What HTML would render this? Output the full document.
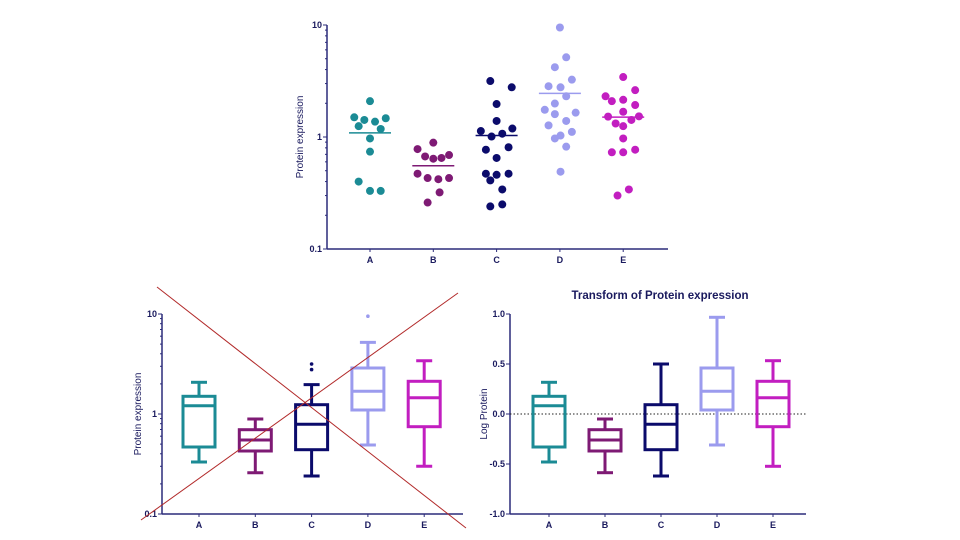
<!DOCTYPE html>
<html><head><meta charset="utf-8"><style>
body{margin:0;background:#fff;width:960px;height:540px;overflow:hidden}
svg{display:block;font-family:"Liberation Sans",sans-serif}
</style></head><body>
<svg id="s" width="960" height="540" viewBox="0 0 960 540"></svg>
<script>
const categories=["A","B","C","D","E"];
const colors=["#1b8b95","#7e1a74","#0b0b6b","#9b9bee","#c21ec0"];
// scatter values (category-fraction jitter, value)
const ptsA=[[0,2.09],[-0.25,1.5],[-0.09,1.42],[0.08,1.37],[0.25,1.47],[-0.18,1.25],[0.17,1.18],[0,0.97],[0,0.74],[-0.18,0.4],[0,0.33],[0.17,0.33]];
const ptsB=[[-0.25,0.78],[0,0.89],[-0.13,0.67],[0,0.64],[0.13,0.65],[0.25,0.69],[-0.25,0.47],[-0.09,0.43],[0.08,0.42],[0.25,0.43],[0.1,0.32],[-0.09,0.26]];
const ptsC=[[-0.1,3.16],[0.24,2.78],[0,1.97],[0,1.39],[-0.25,1.13],[0.25,1.19],[-0.08,1.01],[0.09,1.07],[-0.17,0.77],[0.19,0.81],[0,0.65],[-0.17,0.47],[0,0.46],[0.19,0.47],[-0.1,0.41],[0.09,0.34],[-0.1,0.24],[0.09,0.25]];
const ptsD=[[0,9.5],[0.1,5.15],[-0.08,4.2],[0.19,3.25],[-0.18,2.84],[0.01,2.78],[0.1,2.31],[-0.08,1.99],[-0.24,1.75],[-0.08,1.6],[0.25,1.65],[0.1,1.39],[-0.18,1.27],[0.19,1.11],[0.01,1.03],[-0.08,0.97],[0.1,0.82],[0.01,0.49]];
const ptsE=[[0,3.43],[0.19,2.62],[-0.28,2.31],[-0.18,2.09],[0,2.15],[0.19,1.93],[0,1.68],[-0.24,1.52],[0.25,1.53],[-0.12,1.32],[0,1.25],[0.13,1.42],[0,0.97],[-0.18,0.73],[0,0.73],[0.19,0.77],[0.09,0.34],[-0.09,0.30]];
const scatter=[ptsA,ptsB,ptsC,ptsD,ptsE];
// box stats (log10 values)
const boxHi=[0.317,-0.05,0.5,0.967,0.533];
const boxQ3=[0.177,-0.157,0.093,0.46,0.327];
const boxMed=[0.083,-0.26,-0.103,0.227,0.163];
const boxQ1=[-0.33,-0.37,-0.357,0.04,-0.127];
const boxLo=[-0.48,-0.587,-0.62,-0.31,-0.523];
const tukeyHi=[0.317,-0.05,0.294,0.716,0.533];
const outliers=[[],[],[2.78,3.16],[9.5],[]];
const logTicks=["10","1","0.1"];
const linTicks=["1.0","0.5","0.0","-0.5","-1.0"];

const S=document.getElementById('s');const NS="http://www.w3.org/2000/svg";
function el(t,a,p){const e=document.createElementNS(NS,t);for(const k in a)e.setAttribute(k,a[k]);(p||S).appendChild(e);return e;}
function txt(x,y,s,a,p){const e=el('text',Object.assign({x:x,y:y,fill:'#1a1a5e','font-size':9,'font-weight':'bold','text-anchor':'middle'},a),p);e.textContent=s;return e;}
const AX="#2b2b7a";

function axes(g,x0,x1,yTop,yBot,cx,logAxis,decade){
  el('line',{x1:x0,y1:yTop,x2:x0,y2:yBot,stroke:AX,'stroke-width':1.5},g);
  el('line',{x1:x0,y1:yBot,x2:x1,y2:yBot,stroke:AX,'stroke-width':1.5},g);
  categories.forEach((c,i)=>{const x=cx(i);el('line',{x1:x,y1:yBot,x2:x,y2:yBot+3,stroke:AX},g);
    const t=txt(x,yBot+14,c,{},g);});
  if(logAxis){
    logTicks.forEach((l,i)=>{const y=yTop+i*decade;el('line',{x1:x0-4,y1:y,x2:x0,y2:y,stroke:AX},g);
      const t=txt(x0-5,y+3,l,{'text-anchor':'end'},g);
      if(i<2)for(let m=2;m<10;m++){const yy=yTop+(i+1)*decade-Math.log10(m)*decade;el('line',{x1:x0-2,y1:yy,x2:x0,y2:yy,stroke:AX},g);}});
  } else {
    linTicks.forEach((l,i)=>{const y=yTop+i*(yBot-yTop)/4;el('line',{x1:x0-4,y1:y,x2:x0,y2:y,stroke:AX},g);
      const t=txt(x0-5,y+3,l,{'text-anchor':'end'},g);});
  }
}

// Top scatter chart
(function(){
  const g=el('g',{});
  const x0=327,x1=668,yT=25,yB=249,dec=112,cx=i=>370+i*63.3;
  const y=v=>yT+(1-Math.log10(v))*dec;
  axes(g,x0,x1,yT,yB,cx,true,dec);
  const t=txt(303,137,"Protein expression",{'font-weight':'normal','font-size':10,transform:'rotate(-90 303 137)'},g);
  scatter.forEach((pts,i)=>{let s=0;pts.forEach(p=>{s+=p[1];const c=el('circle',{cx:cx(i)+p[0]*63,cy:y(p[1]),r:4,fill:colors[i]},g);
      });
    const m=s/pts.length;const l=el('line',{x1:cx(i)-21,x2:cx(i)+21,y1:y(m),y2:y(m),stroke:colors[i],'stroke-width':1.5},g);
    });
})();

function boxes(g,cx,y,hiArr,outs){
  categories.forEach((c,i)=>{const x=cx(i),col=colors[i],w=16,a={stroke:col,'stroke-width':3,fill:'none'};
    const bg=el('g',{},g);
    el('line',Object.assign({x1:x,x2:x,y1:y(hiArr[i]),y2:y(boxQ3[i])},a),bg);
    el('line',Object.assign({x1:x,x2:x,y1:y(boxQ1[i]),y2:y(boxLo[i])},a),bg);
    el('line',Object.assign({x1:x-8,x2:x+8,y1:y(hiArr[i]),y2:y(hiArr[i])},a),bg);
    el('line',Object.assign({x1:x-8,x2:x+8,y1:y(boxLo[i]),y2:y(boxLo[i])},a),bg);
    el('rect',Object.assign({x:x-w,y:y(boxQ3[i]),width:2*w,height:y(boxQ1[i])-y(boxQ3[i])},a),bg);
    el('line',Object.assign({x1:x-w,x2:x+w,y1:y(boxMed[i]),y2:y(boxMed[i])},a),bg);
    if(outs)outs[i].forEach(v=>{const o=el('circle',{cx:x,cy:y(Math.log10(v)),r:1.8,fill:col},bg);});
  });
}

// Bottom-left log box plot
(function(){
  const g=el('g',{});
  const x0=162,x1=463,yT=314,yB=514,cx=i=>199+i*56.3;
  const y=l=>yT+(1-l)*100;
  axes(g,x0,x1,yT,yB,cx,true,100);
  const t=txt(141,414,"Protein expression",{'font-weight':'normal','font-size':10,transform:'rotate(-90 141 414)'},g);
  boxes(g,cx,y,tukeyHi,outliers);
  const r1=el('line',{x1:157,y1:287,x2:466,y2:528,stroke:'#b22a2a','stroke-width':1},g);
  const r2=el('line',{x1:141,y1:520,x2:458,y2:293,stroke:'#b22a2a','stroke-width':1},g);
})();

// Bottom-right transformed box plot
(function(){
  const g=el('g',{});
  const x0=510,x1=806,yT=314,yB=514,cx=i=>549+i*56;
  const y=l=>414-l*100;
  axes(g,x0,x1,yT,yB,cx,false);
  const z=el('line',{x1:x0,x2:x1,y1:y(0),y2:y(0),stroke:'#222','stroke-width':1,'stroke-dasharray':'1.5,2'},g);
  const t=txt(487,414,"Log Protein",{'font-weight':'normal','font-size':10,transform:'rotate(-90 487 414)'},g);
  const ti=txt(660,299,"Transform of Protein expression",{'font-size':11.5},g);
  boxes(g,cx,y,boxHi,null);
})();
</script></body></html>
